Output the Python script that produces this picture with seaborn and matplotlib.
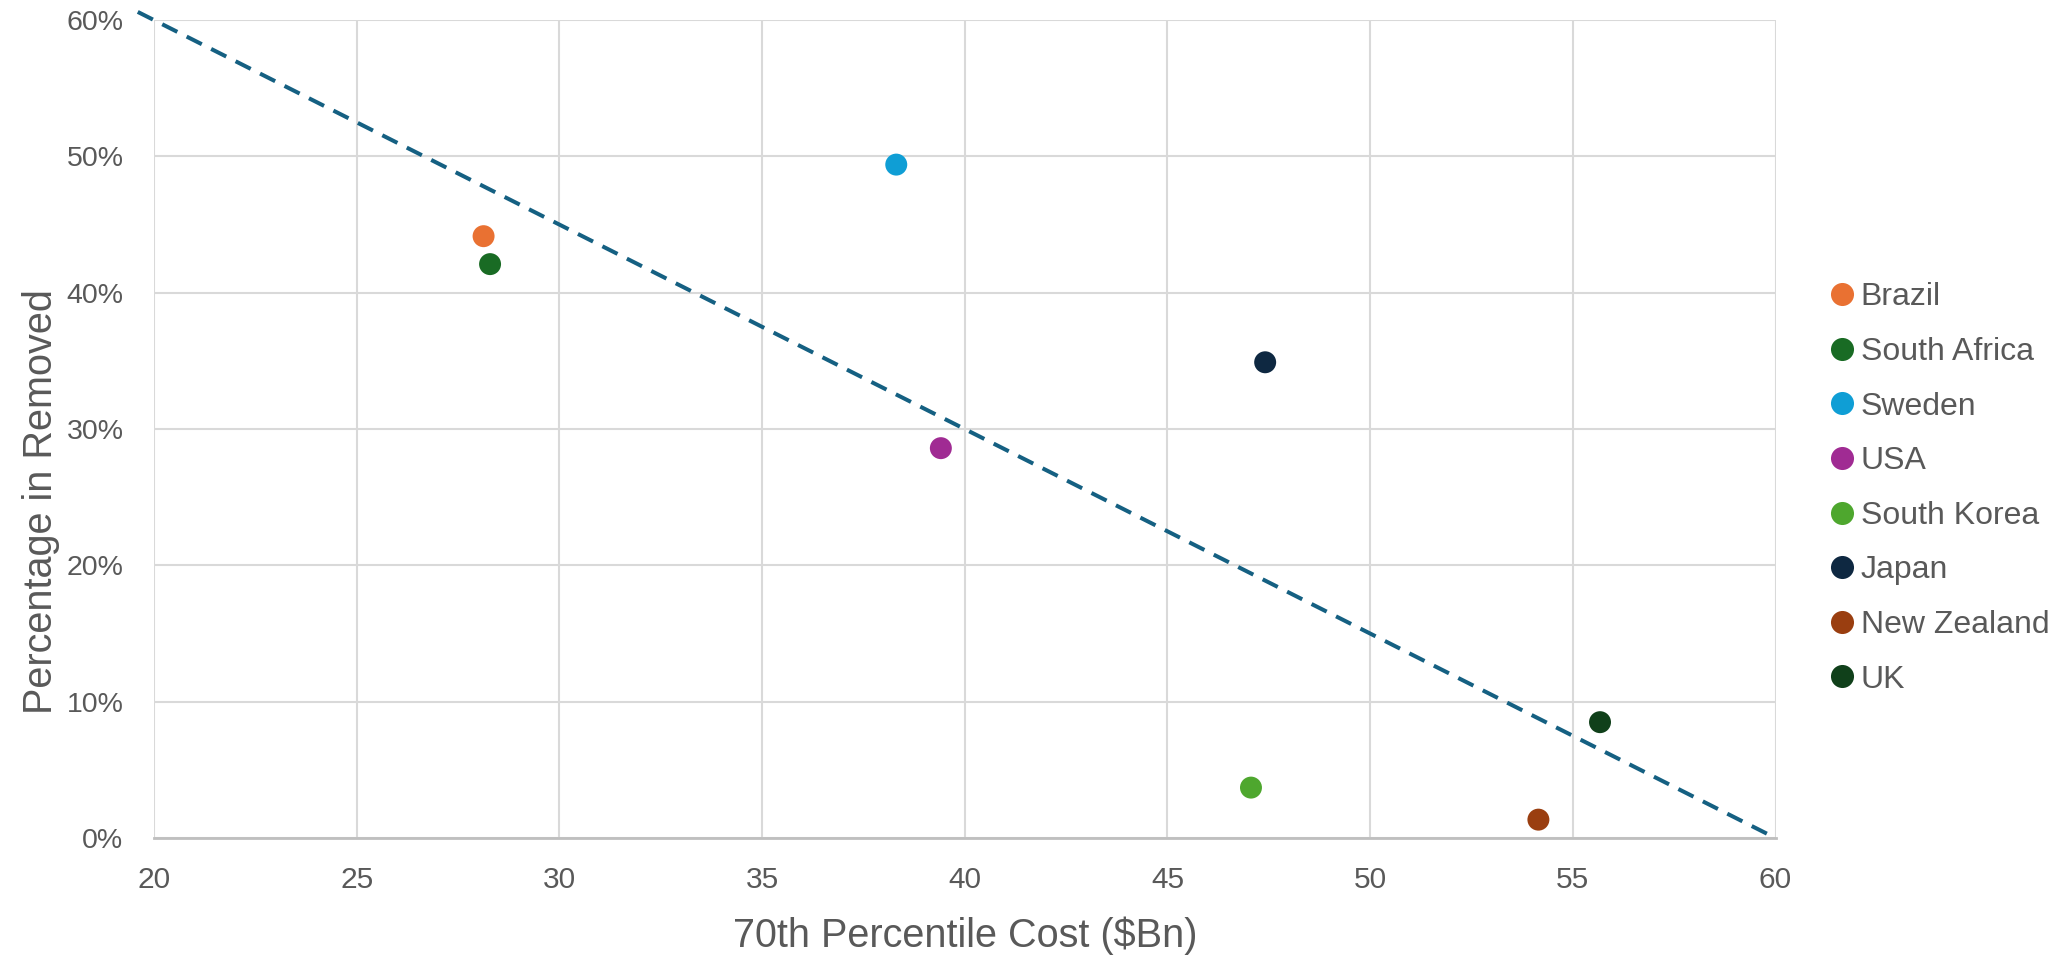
import pandas as pd
import matplotlib
matplotlib.use("Agg")
import matplotlib.pyplot as plt
from matplotlib.ticker import PercentFormatter
import seaborn as sns

# Data
countries = ["Brazil", "South Africa", "Sweden", "USA", "South Korea", "Japan", "New Zealand", "UK"]
cost_bn = [28.13, 28.29, 38.31, 39.41, 47.06, 47.41, 54.15, 55.67]
pct_removed = [0.4415, 0.421, 0.494, 0.286, 0.037, 0.349, 0.0135, 0.085]
colors = ["#E97132", "#196B24", "#0F9ED5", "#A02B93", "#4EA72E", "#0E2841", "#9A3E10", "#10401A"]

# Trend line end points
trend_x = [19.6, 60]
trend_y = [0.606, 0.0]

df = pd.DataFrame({"Country": countries, "Cost": cost_bn, "Removed": pct_removed})
palette = dict(zip(countries, colors))

sns.set_theme(style="white")
plt.rcParams["font.family"] = ["Liberation Sans", "DejaVu Sans"]
grey = "#595959"

fig = plt.figure(figsize=(20.67, 9.57), dpi=100)
ax = fig.add_axes([0.0745, 0.1243, 0.7845, 0.8547])

sns.scatterplot(data=df, x="Cost", y="Removed", hue="Country", palette=palette,
                s=250, linewidth=0, ax=ax, zorder=3)
ax.plot(trend_x, trend_y, color="#156082", linewidth=2.9, linestyle=(0, (4.2, 2.6)),
        clip_on=False, zorder=2)

ax.set_xlim(20, 60)
ax.set_ylim(0, 0.6)
ax.set_xticks(range(20, 61, 5))
ax.set_yticks([0, 0.1, 0.2, 0.3, 0.4, 0.5, 0.6])
ax.yaxis.set_major_formatter(PercentFormatter(1.0, decimals=0))
ax.grid(True, color="#D9D9D9", linewidth=1.5)
ax.set_axisbelow(True)
for side in ["top", "right", "left"]:
    ax.spines[side].set_visible(False)
ax.spines["bottom"].set_color("#BFBFBF")
ax.spines["bottom"].set_linewidth(2)
ax.tick_params(axis="both", length=0, labelcolor=grey)
ax.tick_params(axis="x", pad=20, labelsize=21.5)
ax.tick_params(axis="y", pad=22, labelsize=20.5)

ax.set_xlabel("70th Percentile Cost ($Bn)", fontsize=28.5, color=grey, labelpad=16)
ax.set_ylabel("Percentage in Removed", fontsize=28.5, color=grey)
ax.yaxis.set_label_coords(-0.058, 0.411)

sns.move_legend(ax, "center left", bbox_to_anchor=(0.884, 0.4896),
                bbox_transform=fig.transFigure, frameon=False, title=None,
                labelspacing=0.77, handlelength=0.9, handletextpad=0.15,
                borderaxespad=0, borderpad=0, markerscale=1.05,
                prop={"family": ["Liberation Sans", "DejaVu Sans"], "size": 23})
for t in ax.get_legend().get_texts():
    t.set_color(grey)

fig.savefig("out.png", dpi=100)
